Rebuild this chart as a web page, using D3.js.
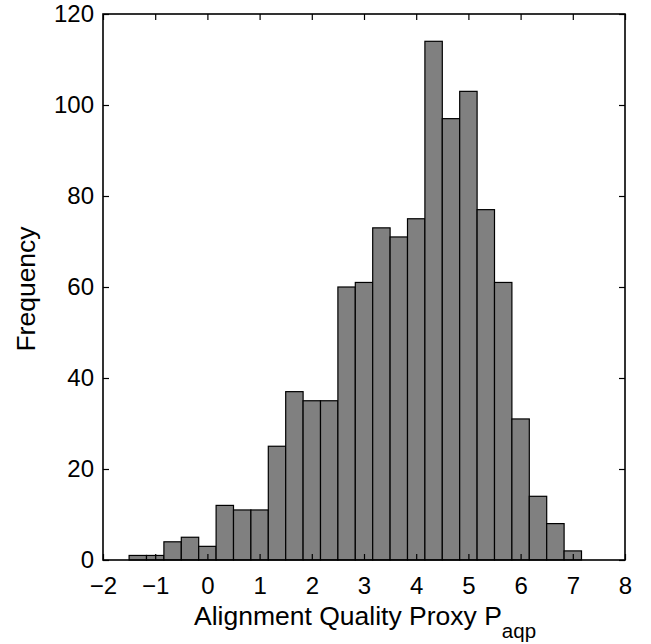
<!DOCTYPE html>
<html>
<head>
<meta charset="utf-8">
<script src="https://cdnjs.cloudflare.com/ajax/libs/d3/7.8.5/d3.min.js"></script>
<style>
  html, body { margin: 0; padding: 0; background: #fff; }
  svg { display: block; }
  text { font-family: "Liberation Sans", Arial, Helvetica, sans-serif; fill: #000; }
</style>
</head>
<body>
<svg id="chart" width="651" height="644"></svg>
<script>
// ---- data ----
const binStart = -1.5;
const binWidth = 1 / 3;
const counts = [1, 1, 4, 5, 3, 12, 11, 11, 25, 37, 35, 35, 60, 61, 73, 71, 75, 114, 97, 103, 77, 61, 31, 14, 8, 2];
const xTicks = [-2, -1, 0, 1, 2, 3, 4, 5, 6, 7, 8];
const yTicks = [0, 20, 40, 60, 80, 100, 120];
const xLabelMain = "Alignment Quality Proxy P";
const xLabelSub = "aqp";
const yLabel = "Frequency";

const bins = counts.map((c, i) => ({ x0: binStart + i * binWidth, x1: binStart + (i + 1) * binWidth, n: c }));

// ---- layout ----
const svg = d3.select("#chart");
const mLeft = 103, mRight = 625, mTop = 14, mBottom = 560;

const x = d3.scaleLinear().domain([-2, 8]).range([mLeft, mRight]);
const y = d3.scaleLinear().domain([0, 120]).range([mBottom, mTop]);

// bars
svg.append("g").selectAll("rect").data(bins).join("rect")
  .attr("x", d => x(d.x0))
  .attr("y", d => y(d.n))
  .attr("width", d => x(d.x1) - x(d.x0))
  .attr("height", d => y(0) - y(d.n))
  .attr("fill", "#808080")
  .attr("stroke", "#000")
  .attr("stroke-width", 1.2);

const tickLen = 6;
const fmt = d => (d < 0 ? "\u2212" + Math.abs(d) : String(d));

const gB = svg.append("g").attr("transform", `translate(0,${mBottom})`)
  .call(d3.axisBottom(x).tickValues(xTicks).tickSize(-tickLen).tickPadding(17).tickFormat(fmt));
const gT = svg.append("g").attr("transform", `translate(0,${mTop})`)
  .call(d3.axisTop(x).tickValues(xTicks).tickSize(-tickLen).tickFormat(""));
const gL = svg.append("g").attr("transform", `translate(${mLeft},0)`)
  .call(d3.axisLeft(y).tickValues(yTicks).tickSize(-tickLen).tickPadding(9).tickFormat(d => d));
const gR = svg.append("g").attr("transform", `translate(${mRight},0)`)
  .call(d3.axisRight(y).tickValues(yTicks).tickSize(-tickLen).tickFormat(""));

[gB, gT, gL, gR].forEach(g => {
  g.select(".domain").remove();
  g.selectAll(".tick line").attr("stroke", "#000").attr("stroke-width", 1.2);
  g.selectAll(".tick text").style("font-size", "24px").attr("fill", "#000");
});

svg.append("rect")
  .attr("x", mLeft).attr("y", mTop)
  .attr("width", mRight - mLeft).attr("height", mBottom - mTop)
  .attr("fill", "none").attr("stroke", "#000").attr("stroke-width", 1.6);

gB.selectAll(".tick text").attr("dy", "0.71em");

const xl = svg.append("text")
  .attr("x", 194)
  .attr("y", 625)
  .attr("text-anchor", "start")
  .style("font-size", "26.5px");
xl.append("tspan").text(xLabelMain);
xl.append("tspan").attr("dy", 13).style("font-size", "20.5px").text(xLabelSub);

svg.append("text")
  .attr("transform", `translate(35,${(mTop + mBottom) / 2 + 2}) rotate(-90)`)
  .attr("text-anchor", "middle")
  .style("font-size", "26.5px")
  .text(yLabel);
</script>
</body>
</html>
